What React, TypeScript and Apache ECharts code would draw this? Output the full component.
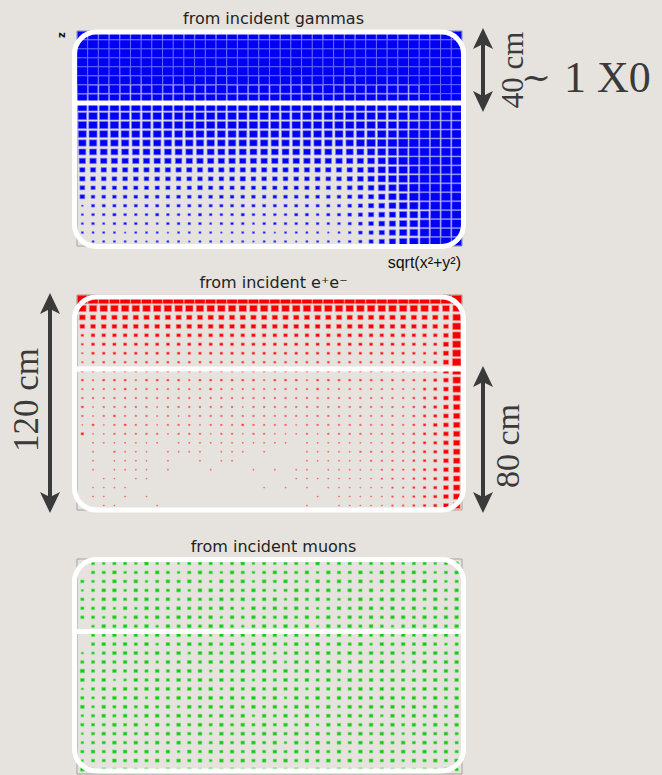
import React, { useEffect, useRef } from 'react';
import * as echarts from 'echarts';

// Bin grid of each histogram: 36 bins in sqrt(x^2+y^2), 24 bins in z (5 cm each).
const COLS = 36;
const ROWS = 24;
// Bin content encoded per character, 0..20 (20 = box fills the whole bin).
const LEVELS = '0123456789abcdefghijk';

// Energy deposit per bin, top row (front face) first.
const gammaRows = [
  'jjjjjjjjjjjjjjjjjjjjjjjjjjjjjjjjjjjj',
  'kkkkkkkkkkkkkkkkkkkkkkkkkkkkkkkkkkkk',
  'kkkkkkkkkkkkkkkkkkkkkkkkkkkkkkkkkkkk',
  'kkkkkkkkkkkkkkkkkkkkkkkkkkkkkkkkkkkk',
  'kkkkjkkkkkkkkjkkkkkkkkkkkjkkkkkkkkkk',
  'kjjkjjjkjjkjjjjkjjkjjjkjjjjkjjjkkkkk',
  'jiijiiijiiiiijiiiiiiiiijiiiiiiiijkkk',
  'iiiiiiiiiiiiiiiiiiiiiiiiiiiiiiiijjkk',
  'hhhhhhhhhhhhhhhhhhhhhhhhhhhhhhhiijjj',
  'ggghgggggggggggggggggggggggggghhiiii',
  'gggggggfgggggggggggggggggggggghhiiii',
  'ffffffffffffffffffffffffffffgghiiiii',
  'eeeeeeeeeeeeeeeeeeeeeeeeeefgghiiiiii',
  'dddddddddddddddddddddddddddefghiiiii',
  'cccccccccccccccccccccccccccdeghiiiii',
  'aaaaaaaaaaaaaaaaaaaaaaaaaabcefghiiii',
  'a99999999999999a999999999abcefghiiii',
  '98888888888988888888888889abdeghiiii',
  '977777777777777777777777789acefhiiii',
  '366666666666666666666666678abdfghiii',
  '455655565556555655556656678abcefgiii',
  '4545555455554555455555555679bcefhiii',
  '4444344434444344443444434578acefhiii',
  '4444443444344444344434444568aceghjjj',
];

const electronRows = [
  'jjjjjjjjjjjjjjjjjjjjjjjjjjjjjjjjjjjj',
  'eeeeeeeeeeeeeeeeeeeeeeeeeeeeeeeeedde',
  'baaaaaaaaaaaaaaaaaaaaaaaaaaaaaaaaaae',
  '99999999999999999999999999999999999f',
  '57777777777777777777777777777777779f',
  '4666666666666666666666666666666666af',
  '3555555555555555555555555555555556af',
  '3444444444444444444444444444444446ag',
  '4444444444444444444444444444444446af',
  '43444344443444444344434444444444569e',
  '33334333333343333333334333333333569e',
  '33333333333333333333333333333334569d',
  '42333332333333323333333333333334569c',
  '32343332323333333333333333333334569c',
  '24234332333233343333233333333334579c',
  '52233333233323323322232333333334569c',
  '02222222022222222222022222222334569c',
  '02032220222202220200022222333334569c',
  '02022220200202200000022222233334569c',
  '02022220200020002020220222223334569c',
  '00220220000000000000222222223334569c',
  '02222000000000000202020222222334569c',
  '02202020000000000000002022222334569c',
  '40220002000000000000020022222334569d',
];

const muonRows = [
  '565665756466656756566575665656566567',
  '066756676567657656766757667576676567',
  '656767567676576757676576767576767656',
  '467757676757767676567767676757676767',
  '657767767576676767757676567677676757',
  '667575776767676576767656767767675767',
  '665757676776757676676767576767767677',
  '057676757676776567676757676765676767',
  '066757676767576767767676757676767676',
  '067676757676767576767676767576767656',
  '456777676757767676567677676767576767',
  '667676757676767676757676767676567677',
  '866767676777576767676767767676757676',
  '767457676767676757676767576767676767',
  '467676777676757676767576767676767676',
  '656767576767767676757676767677676767',
  '757676767576767676767767576767676767',
  '567676776767676757676767676757676767',
  '666767576767676767676757676767676767',
  '467676767767576767767676767676567676',
  '566767676767676776757676767676767676',
  '676776767576767676767676757676767676',
  '466767676767576767676767676767576767',
  '767676757676767676767576767676767676',
];

const panelTitles = ['from incident gammas', 'from incident e\u207Ae\u207B', 'from incident muons'];
const panelFills = ['#0000f5', '#f50000', '#10c810'];
const panelStrokes = ['rgba(120,120,255,0.85)', 'rgba(255,130,130,0.85)', 'rgba(110,220,110,0.9)'];
const panelData = [gammaRows, electronRows, muonRows];

// Depth markers (annotation labels)
const depthLabels = ['40 cm', '~', '1 X0', '120 cm', '80 cm'];
const axisTitles = ['z', 'sqrt(x\u00B2+y\u00B2)'];

function toCells(rows: string[]) {
  const out: number[][] = [];
  rows.forEach((row, i) => {
    const r = row.padEnd(COLS, '0').slice(0, COLS);
    for (let j = 0; j < COLS; j++) {
      const v = LEVELS.indexOf(r[j]);
      if (v > 0) out.push([j + 0.5, ROWS - i - 0.5, v]);
    }
  });
  return out;
}

const PANEL_LEFT = 77;
const PANEL_W = 385;
const PANEL_H = 215;
const PANEL_TOPS = [31, 295, 559];
const INK = '#3a3a3a';

function arrow(x: number, top: number, bottom: number) {
  const head = (tipY: number, dir: number) => ({
    type: 'polygon',
    shape: {
      points: [
        [x, tipY],
        [x - 10, tipY + dir * 21],
        [x, tipY + dir * 16],
        [x + 10, tipY + dir * 21],
      ],
    },
    style: { fill: INK },
    z: 20,
  });
  return [
    {
      type: 'line',
      shape: { x1: x, y1: top + 14, x2: x, y2: bottom - 14 },
      style: { stroke: INK, lineWidth: 4 },
      z: 20,
    },
    head(top, 1),
    head(bottom, -1),
  ];
}

export default function App() {
  const ref = useRef<HTMLDivElement>(null);

  useEffect(() => {
    if (!ref.current) return;
    const chart = echarts.init(ref.current, undefined, { renderer: 'svg' });

    const grids = PANEL_TOPS.map((top) => ({
      left: PANEL_LEFT,
      top,
      width: PANEL_W,
      height: PANEL_H,
      show: true,
      borderColor: '#a3a3a3',
      borderWidth: 1,
      backgroundColor: 'transparent',
    }));

    const xAxes = PANEL_TOPS.map((_, k) => ({
      type: 'value',
      gridIndex: k,
      min: 0,
      max: COLS,
      show: false,
    }));
    const yAxes = PANEL_TOPS.map((_, k) => ({
      type: 'value',
      gridIndex: k,
      min: 0,
      max: ROWS,
      show: false,
    }));

    const series = panelData.map((rows, k) => ({
      type: 'custom',
      xAxisIndex: k,
      yAxisIndex: k,
      data: toCells(rows),
      renderItem: (_params: any, api: any) => {
        const c = api.coord([api.value(0), api.value(1)]);
        const s = api.size([1, 1]);
        const f = api.value(2) / 20;
        const w = s[0] * f;
        const h = s[1] * f;
        return {
          type: 'rect',
          shape: { x: c[0] - w / 2, y: c[1] - h / 2, width: w, height: h },
          style: { fill: panelFills[k], stroke: panelStrokes[k], lineWidth: 0.8 },
        };
      },
    }));

    const titles = panelTitles.map((text, k) => ({
      text,
      left: PANEL_LEFT + PANEL_W / 2 - 1,
      textAlign: 'center',
      top: PANEL_TOPS[k] - 26,
      textStyle: {
        fontFamily: 'DejaVu Sans',
        fontSize: 16,
        fontWeight: 'normal',
        color: '#222',
      },
    }));

    // White rounded outlines and the 40 cm divider over each panel
    const frames = [
      { y1: 32, y2: 246.5, cut: 103 },
      { y1: 297, y2: 510, cut: 369 },
      { y1: 559.5, y2: 771, cut: 631.5 },
    ];
    const overlay: any[] = [];
    frames.forEach((f) => {
      overlay.push({
        type: 'rect',
        shape: { x: 74.5, y: f.y1, width: 389, height: f.y2 - f.y1, r: 22 },
        style: { fill: 'none', stroke: '#ffffff', lineWidth: 5 },
        z: 10,
      });
      overlay.push({
        type: 'line',
        shape: { x1: 74.5, y1: f.cut, x2: 463.5, y2: f.cut },
        style: { stroke: '#ffffff', lineWidth: 5 },
        z: 10,
      });
    });

    const serif = '"Liberation Serif", "DejaVu Serif", serif';
    const texts: any[] = [
      {
        type: 'text',
        x: 512,
        y: 70,
        rotation: Math.PI / 2,
        style: { text: depthLabels[0], font: `31px ${serif}`, fill: INK, align: 'center', verticalAlign: 'middle' },
        z: 21,
      },
      {
        type: 'text',
        x: 536,
        y: 76,
        style: { text: depthLabels[1], font: '36px "DejaVu Serif", serif', fill: INK, align: 'center', verticalAlign: 'middle' },
        z: 21,
      },
      {
        type: 'text',
        x: 564,
        y: 77,
        style: { text: depthLabels[2], font: `44px ${serif}`, fill: INK, align: 'left', verticalAlign: 'middle' },
        z: 21,
      },
      {
        type: 'text',
        x: 26,
        y: 400,
        rotation: Math.PI / 2,
        style: { text: depthLabels[3], font: `35px ${serif}`, fill: INK, align: 'center', verticalAlign: 'middle' },
        z: 21,
      },
      {
        type: 'text',
        x: 507,
        y: 446,
        rotation: Math.PI / 2,
        style: { text: depthLabels[4], font: `34px ${serif}`, fill: INK, align: 'center', verticalAlign: 'middle' },
        z: 21,
      },
      {
        type: 'text',
        x: 61,
        y: 35,
        rotation: Math.PI / 2,
        style: { text: axisTitles[0], font: 'bold 10px "DejaVu Sans", sans-serif', fill: '#111', align: 'center', verticalAlign: 'middle' },
        z: 21,
      },
      {
        type: 'text',
        x: 461,
        y: 262,
        style: { text: axisTitles[1], font: '16px "Liberation Sans", sans-serif', fill: '#111', align: 'right', verticalAlign: 'middle' },
        z: 21,
      },
    ];

    chart.setOption({
      animation: false,
      backgroundColor: '#e6e3de',
      title: titles,
      grid: grids,
      xAxis: xAxes,
      yAxis: yAxes,
      series,
      graphic: [
        ...overlay,
        ...arrow(483, 28, 112),
        ...arrow(50, 293, 513),
        ...arrow(483, 366, 513),
        ...texts,
      ],
    });

    return () => chart.dispose();
  }, []);

  return (
    <div
      ref={ref}
      style={{ position: 'fixed', left: 0, top: 0, width: 662, height: 775 }}
    />
  );
}
